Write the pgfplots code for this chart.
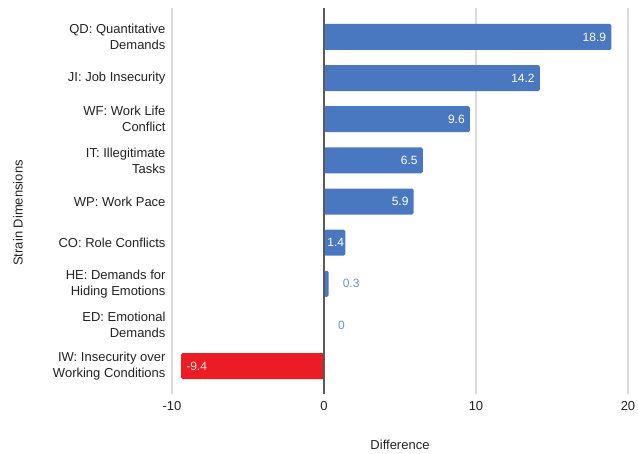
\documentclass[border=0pt]{standalone}
\usepackage{pgfplots}
\pgfplotsset{compat=1.18}
\usepackage{fontspec}
\setmainfont{Liberation Sans}

\definecolor{barblue}{HTML}{4A78C0}
\definecolor{barred}{HTML}{EC1C24}
\definecolor{lblblue}{HTML}{6A94D6}
\definecolor{gridgray}{HTML}{DADADA}
\definecolor{zerogray}{HTML}{5A5A5A}
\definecolor{txtgray}{HTML}{222222}

\begin{document}
\begin{tikzpicture}
\useasboundingbox (0,0) rectangle (638pt,454pt);
\begin{axis}[
  at={(172pt,60pt)}, anchor=south west,
  scale only axis, width=456pt, height=386pt,
  xmin=-10, xmax=20, ymin=-0.705, ymax=8.68, y dir=reverse,
  xtick={-10,10,20}, extra x ticks={0},
  extra x tick style={xmajorgrids=false},
  xmajorgrids, grid style={gridgray, line width=1.1pt},
  axis line style={draw=none}, major tick length=0pt,
  ytick={0,...,8},
  yticklabels={{QD: Quantitative\\Demands},{JI: Job Insecurity},{WF: Work Life\\Conflict},{IT: Illegitimate\\Tasks},{WP: Work Pace},{CO: Role Conflicts},{HE: Demands for\\Hiding Emotions},{ED: Emotional\\Demands},{IW: Insecurity over\\Working Conditions}},
  yticklabel style={align=right, font=\fontsize{13}{16}\selectfont, text=txtgray, xshift=-3pt},
  xticklabel style={font=\fontsize{13}{15}\selectfont, text=txtgray, yshift=-4pt},
  /pgf/number format/assume math mode=true,
  xlabel={Difference},
  xlabel style={at={(axis description cs:0.5,0)}, anchor=center, yshift=-51pt, font=\fontsize{13}{15}\selectfont, text=txtgray},
  ylabel={Strain Dimensions},
  ylabel style={at={(axis description cs:0,0.469)}, anchor=center, yshift=154pt, font=\fontsize{13}{15}\selectfont, text=txtgray},
  clip=false,
]
% positive differences
\addplot[xbar, bar width=26pt, bar shift=0pt, fill=barblue, draw=none, rounded corners=1.5pt]
  coordinates {(18.9,0) (14.2,1) (9.6,2) (6.5,3) (5.9,4) (1.4,5) (0.3,6)};
% negative difference
\addplot[xbar, bar width=26pt, bar shift=0pt, fill=barred, draw=none, rounded corners=1.5pt]
  coordinates {(-9.4,8)};

% value labels inside the bar ends
\addplot[draw=none, mark=none, point meta=x, nodes near coords, nodes near coords align=center,
  nodes near coords style={anchor=east, inner sep=0pt, xshift=-5pt, text=white, font=\fontsize{12}{14}\selectfont}]
  coordinates {(18.9,0) (14.2,1) (9.6,2) (6.5,3) (5.9,4)};
\addplot[draw=none, mark=none, point meta=x, nodes near coords, nodes near coords align=center,
  nodes near coords style={anchor=east, inner sep=0pt, xshift=-1pt, text=white, font=\fontsize{12}{14}\selectfont}]
  coordinates {(1.4,5)};
\addplot[draw=none, mark=none, point meta=x, nodes near coords, nodes near coords align=center,
  nodes near coords style={anchor=west, inner sep=0pt, xshift=5pt, text=white!90!red, font=\fontsize{12}{14}\selectfont}]
  coordinates {(-9.4,8)};
% value labels beside very short bars
\addplot[draw=none, mark=none, point meta=x, nodes near coords, nodes near coords align=center,
  nodes near coords style={anchor=west, inner sep=0pt, xshift=14pt, text=lblblue, font=\fontsize{12}{14}\selectfont}]
  coordinates {(0.3,6) (0,7)};

% zero reference line
\draw[zerogray, line width=1.5pt] ({axis cs:0,0}|-{rel axis cs:0,0}) -- ({axis cs:0,0}|-{rel axis cs:0,1});
\end{axis}
\end{tikzpicture}
\end{document}
